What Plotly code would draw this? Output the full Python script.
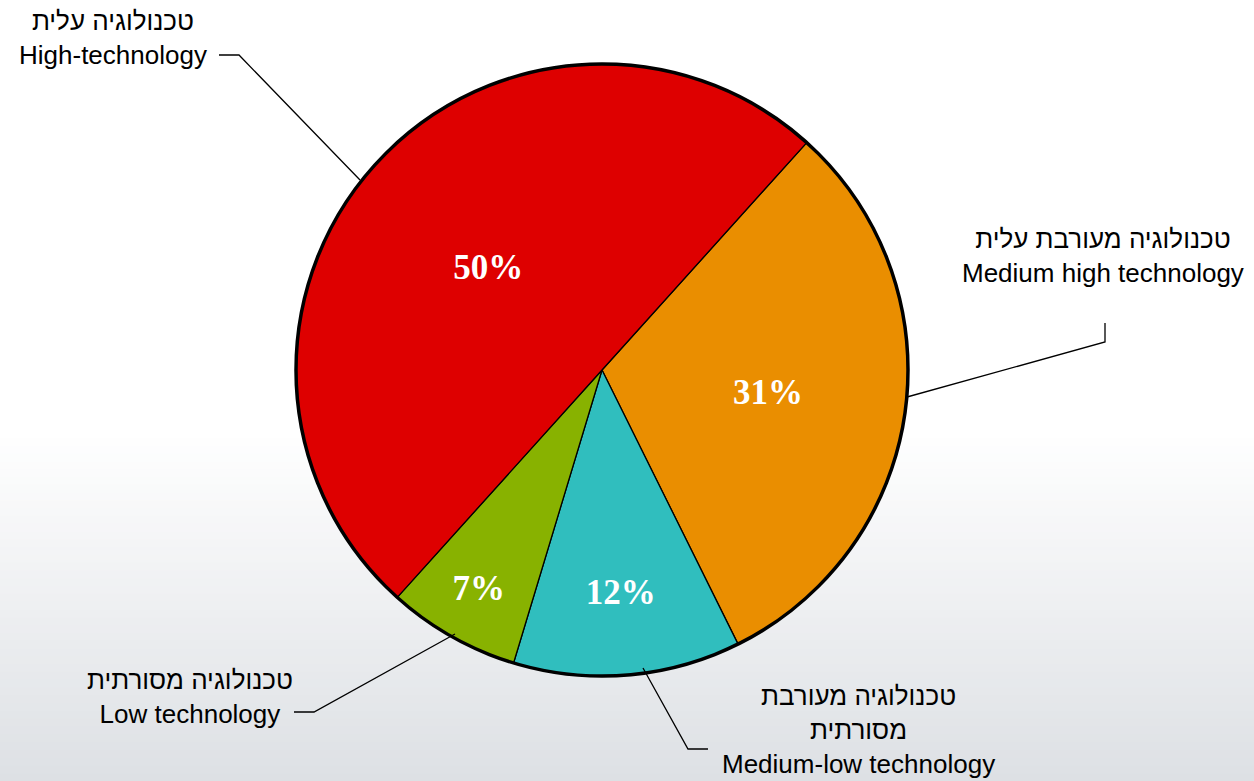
import plotly.graph_objects as go

# ---- data ----
labels_en = ["Medium high technology", "Medium-low technology", "Low technology", "High-technology"]
labels_he = ["טכנולוגיה מעורבת עלית", "טכנולוגיה מעורבת<br>מסורתית", "טכנולוגיה מסורתית", "טכנולוגיה עלית"]
values = [31, 12, 7, 50]
colors = ["#ea8e00", "#30bebe", "#88b200", "#de0000"]

W, H = 1254, 781
CX, CY, R = 602, 370, 306


def px(x):
    return x / W


def py(y):
    return 1 - y / H


fig = go.Figure()

fig.add_trace(go.Pie(
    labels=labels_en,
    values=values,
    sort=False,
    direction="clockwise",
    rotation=42,
    marker=dict(colors=colors, line=dict(color="#000000", width=1.3)),
    textinfo="percent",
    texttemplate="%{percent:.0%}",
    textposition="inside",
    insidetextorientation="horizontal",
    textfont=dict(family="Liberation Serif", size=35, color="white", weight="bold"),
    domain=dict(x=[px(CX - R), px(CX + R)], y=[py(CY + R), py(CY - R)]),
    showlegend=False,
    hoverinfo="label+percent",
))

# outer border ring
fig.add_trace(go.Pie(
    values=[1],
    marker=dict(colors=["rgba(0,0,0,0)"], line=dict(color="#000000", width=3.5)),
    textinfo="none",
    hoverinfo="skip",
    sort=False,
    domain=dict(x=[px(CX - R), px(CX + R)], y=[py(CY + R), py(CY - R)]),
    showlegend=False,
))

shapes = []
# background gradient (white -> light grey toward the bottom)
y0 = 430
n = 45
c0 = (255, 255, 255)
c1 = (221, 224, 228)
for i in range(n):
    t = (i + 0.5) / n
    col = tuple(int(round(c0[k] + (c1[k] - c0[k]) * t)) for k in range(3))
    ya = y0 + (H - y0) * i / n
    yb = y0 + (H - y0) * (i + 1) / n + 1
    shapes.append(dict(type="rect", xref="paper", yref="paper", layer="below",
                       x0=0, x1=1, y0=py(yb), y1=py(ya),
                       fillcolor="rgb(%d,%d,%d)" % col, line=dict(width=0)))

# leader lines
leaders = [
    [(219, 55), (239, 55), (360, 180)],
    [(1105, 323), (1105, 342), (907, 397)],
    [(294, 712), (314, 712), (455, 634)],
    [(643, 668), (688, 749), (708, 749)],
]
for pts in leaders:
    path = "M " + " L ".join("%f,%f" % (px(x), py(y)) for x, y in pts)
    shapes.append(dict(type="path", xref="paper", yref="paper", path=path,
                       line=dict(color="#000000", width=1.3)))

# label annotations: (center x, center y) in pixels
label_pos = [(113, 38), (1103, 256), (858, 730), (190, 697)]
label_idx = [3, 0, 1, 2]
annotations = []
for (x, y), i in zip(label_pos, label_idx):
    annotations.append(dict(
        x=px(x), y=py(y), xref="paper", yref="paper",
        text=labels_he[i] + "<br>" + labels_en[i], showarrow=False, align="center",
        xanchor="center", yanchor="middle",
        font=dict(family="Liberation Sans, Arial, sans-serif", size=26, color="#000000"),
    ))

fig.update_layout(
    width=W, height=H,
    margin=dict(l=0, r=0, t=0, b=0),
    paper_bgcolor="white",
    plot_bgcolor="white",
    shapes=shapes,
    annotations=annotations,
)

fig.write_html("out.html",
               config={"displayModeBar": False},
               post_script="document.body.style.margin='0';document.body.style.padding='0';document.body.style.overflow='hidden';")
